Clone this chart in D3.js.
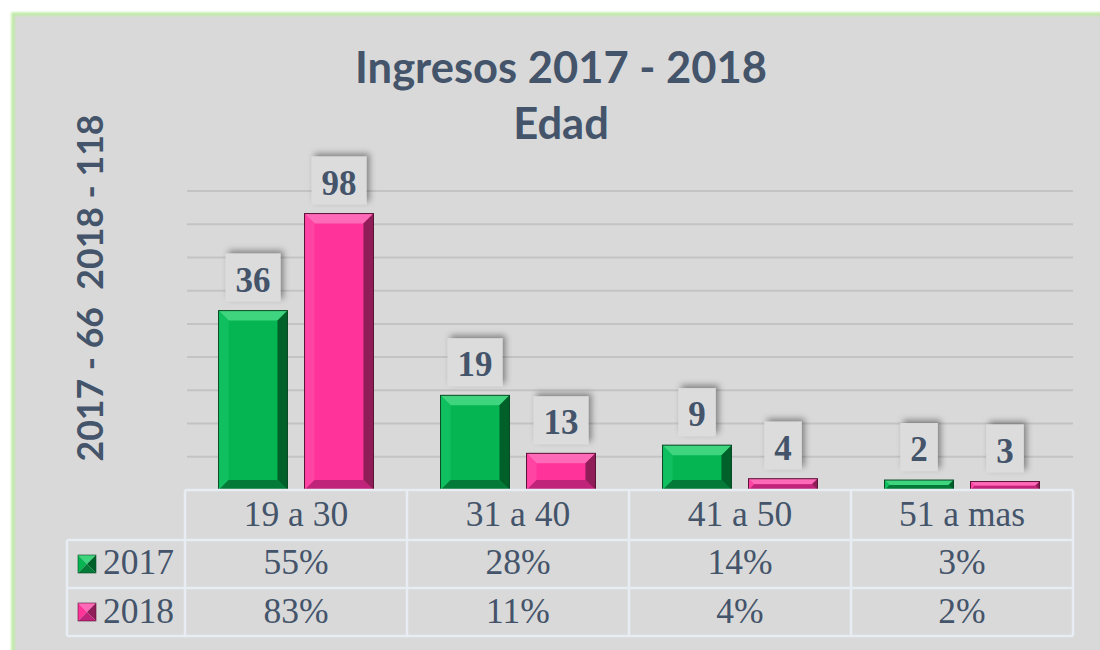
<!DOCTYPE html>
<html>
<head>
<meta charset="utf-8">
<script src="https://cdn.jsdelivr.net/npm/d3@7"></script>
<style>
  html, body { margin: 0; padding: 0; background: #ffffff; }
  svg { display: block; }
</style>
</head>
<body>
<svg id="chart" width="1100" height="650"></svg>
<script>
// ---------- data ----------
const categories = ["19 a 30", "31 a 40", "41 a 50", "51 a mas"];
const seriesNames = ["2017", "2018"];
const values2017 = [36, 19, 9, 2];
const values2018 = [98, 13, 4, 3];
const pct2017 = ["55%", "28%", "14%", "3%"];
const pct2018 = ["83%", "11%", "4%", "2%"];
const titleLines = ["Ingresos 2017 - 2018", "Edad"];
const axisTitle = "2017 - 66  2018 - 118";
const max2017 = 60;   // secondary axis maximum (hidden)
const max2018 = 106;  // primary axis maximum (hidden)
const gridCount = 9;

// ---------- layout ----------
const svg = d3.select("#chart");
const W = 1100, H = 650;
const plot = { left: 185, right: 1073, top: 191, bottom: 490 };
const tableRows = { header: [490, 540], r1: [540, 588], r2: [588, 636] };
const legendLeft = 67;
const textColor = "#44546a";
const titleFont = "Lato, 'Open Sans', 'Noto Sans', sans-serif";
const serif = "'Liberation Serif', 'Times New Roman', serif";

const defs = svg.append("defs");
const glow = defs.append("filter").attr("id", "glow").attr("x", "-5%").attr("y", "-5%").attr("width", "110%").attr("height", "110%");
glow.append("feGaussianBlur").attr("stdDeviation", 1.2);

const shadow = defs.append("filter").attr("id", "shadow").attr("x", "-40%").attr("y", "-40%").attr("width", "180%").attr("height", "180%");
shadow.append("feDropShadow").attr("dx", 3).attr("dy", -3).attr("stdDeviation", 3)
  .attr("flood-color", "#000").attr("flood-opacity", 0.4);

// background
svg.append("rect").attr("width", W).attr("height", H).attr("fill", "#ffffff");
svg.append("rect").attr("x", 13).attr("y", 14).attr("width", W + 20).attr("height", H + 20)
  .attr("fill", "#d9d9d9");
svg.append("rect").attr("x", 13).attr("y", 14).attr("width", W + 20).attr("height", H + 20)
  .attr("fill", "none").attr("stroke", "#bfeaa6").attr("stroke-width", 3.5).attr("filter", "url(#glow)");

// ---------- scales ----------
const x = d3.scaleBand().domain(categories).range([plot.left, plot.right]).paddingInner(0).paddingOuter(0);
const xs = d3.scaleBand().domain(seriesNames).range([0, x.bandwidth()]).paddingInner(0.198).paddingOuter(0.39);
const y17 = d3.scaleLinear().domain([0, max2017]).range([plot.bottom, plot.top]);
const y18 = d3.scaleLinear().domain([0, max2018]).range([plot.bottom, plot.top]);
const yGrid = d3.scaleLinear().domain([0, gridCount]).range([plot.bottom, plot.top]);

// gridlines
svg.append("g").selectAll("line").data(d3.range(1, gridCount + 1)).join("line")
  .attr("x1", plot.left + 2).attr("x2", plot.right)
  .attr("y1", d => yGrid(d)).attr("y2", d => yGrid(d))
  .attr("stroke", "#c3c3c3").attr("stroke-width", 2);

// ---------- titles ----------
function fitText(sel, width) {
  const w = sel.node().getComputedTextLength();
  const fs = parseFloat(sel.attr("font-size"));
  sel.attr("font-size", fs * width / w);
}
const t1 = svg.append("text").attr("x", 561).attr("y", 83).attr("text-anchor", "middle")
  .attr("font-family", titleFont).attr("font-weight", "bold")
  .attr("font-size", 38).attr("fill", textColor).text(titleLines[0]);
fitText(t1, 412);
svg.append("text").attr("x", 561).attr("y", 139).attr("text-anchor", "middle")
  .attr("font-family", titleFont).attr("font-weight", "bold")
  .attr("font-size", +t1.attr("font-size")).attr("fill", textColor).text(titleLines[1]);

const yt = svg.append("text").attr("transform", "translate(103,288) rotate(-90)").attr("text-anchor", "middle")
  .attr("font-family", titleFont).attr("font-weight", "bold")
  .attr("font-size", 38).attr("fill", textColor).attr("xml:space", "preserve").text(axisTitle);
fitText(yt, 347);

// ---------- bevelled bars ----------
const palettes = {
  "2017": { main: "#05b551", top: "#3fd57e", left: "#10c060", right: "#00602a", bottom: "#037a37", edge: "#0b4a26" },
  "2018": { main: "#ff3399", top: "#ff6ab8", left: "#ff44a4", right: "#8f1d58", bottom: "#c0237a", edge: "#5a1236" }
};
function bevelBar(g, x0, yTop, w, h, pal) {
  const b = Math.min(10, h / 2, w / 2);
  const x1 = x0 + w, yB = yTop + h;
  g.append("rect").attr("x", x0).attr("y", yTop).attr("width", w).attr("height", h).attr("fill", pal.main);
  const poly = (pts, fill) => g.append("polygon").attr("points", pts.map(p => p.join(",")).join(" ")).attr("fill", fill);
  poly([[x0, yTop], [x1, yTop], [x1 - b, yTop + b], [x0 + b, yTop + b]], pal.top);
  poly([[x0, yTop], [x0 + b, yTop + b], [x0 + b, yB - b], [x0, yB]], pal.left);
  poly([[x1, yTop], [x1, yB], [x1 - b, yB - b], [x1 - b, yTop + b]], pal.right);
  poly([[x0, yB], [x1, yB], [x1 - b, yB - b], [x0 + b, yB - b]], pal.bottom);
  g.append("rect").attr("x", x0).attr("y", yTop).attr("width", w).attr("height", h)
    .attr("fill", "none").attr("stroke", pal.edge).attr("stroke-width", 1);
}

const barData = [];
categories.forEach((c, i) => {
  barData.push({ cat: c, s: "2017", v: values2017[i], y: y17 });
  barData.push({ cat: c, s: "2018", v: values2018[i], y: y18 });
});

const barsG = svg.append("g");
barData.forEach(d => {
  const bx = x(d.cat) + xs(d.s);
  const yTop = d.y(d.v);
  bevelBar(barsG.append("g"), bx, yTop, xs.bandwidth(), plot.bottom - yTop, palettes[d.s]);
});

// data labels
const labelsG = svg.append("g");
barData.forEach(d => {
  const cx = x(d.cat) + xs(d.s) + xs.bandwidth() / 2;
  const yTop = d.y(d.v);
  const g = labelsG.append("g");
  const txt = g.append("text").attr("x", cx).attr("y", yTop - 19)
    .attr("text-anchor", "middle").attr("font-family", serif)
    .attr("font-weight", "bold").attr("font-size", 35).attr("fill", textColor).text(d.v);
  const tw = txt.node().getComputedTextLength();
  const bw = tw + 20, bh = 48;
  g.insert("rect", "text").attr("x", cx - bw / 2).attr("y", yTop - 9 - bh).attr("width", bw).attr("height", bh)
    .attr("fill", "#dcdcdc").attr("filter", "url(#shadow)");
});

// ---------- data table ----------
const tableG = svg.append("g");
const lineColor = "#e8ecf3";
const hl = (x1, x2, yy) => tableG.append("line").attr("x1", x1).attr("x2", x2).attr("y1", yy).attr("y2", yy)
  .attr("stroke", lineColor).attr("stroke-width", 2.5);
const vl = (xx, y1, y2) => tableG.append("line").attr("x1", xx).attr("x2", xx).attr("y1", y1).attr("y2", y2)
  .attr("stroke", lineColor).attr("stroke-width", 2.5);
hl(plot.left, plot.right, tableRows.header[0]);
hl(legendLeft, plot.right, tableRows.r1[0]);
hl(legendLeft, plot.right, tableRows.r2[0]);
hl(legendLeft, plot.right, tableRows.r2[1]);
vl(legendLeft, tableRows.r1[0], tableRows.r2[1]);
categories.forEach(c => vl(x(c), tableRows.header[0], tableRows.r2[1]));
vl(plot.right, tableRows.header[0], tableRows.r2[1]);

const tableFs = 35.5;
tableG.selectAll("text.cat").data(categories).join("text").attr("class", "cat")
  .attr("x", d => x(d) + x.bandwidth() / 2).attr("y", 526).attr("text-anchor", "middle")
  .attr("font-family", serif).attr("font-size", tableFs).attr("fill", textColor).text(d => d);
tableG.selectAll("text.p17").data(pct2017).join("text").attr("class", "p17")
  .attr("x", (d, i) => x(categories[i]) + x.bandwidth() / 2).attr("y", 574).attr("text-anchor", "middle")
  .attr("font-family", serif).attr("font-size", tableFs).attr("fill", textColor).text(d => d);
tableG.selectAll("text.p18").data(pct2018).join("text").attr("class", "p18")
  .attr("x", (d, i) => x(categories[i]) + x.bandwidth() / 2).attr("y", 623).attr("text-anchor", "middle")
  .attr("font-family", serif).attr("font-size", tableFs).attr("fill", textColor).text(d => d);

// legend keys
function legendKey(g, x0, y0, s, pal) {
  const poly = (pts, fill) => g.append("polygon").attr("points", pts.map(p => p.join(",")).join(" ")).attr("fill", fill);
  const c = [x0 + s / 2, y0 + s / 2];
  poly([[x0, y0], [x0 + s, y0], c], pal.top);
  poly([[x0, y0], c, [x0, y0 + s]], pal.main);
  poly([[x0 + s, y0], [x0 + s, y0 + s], c], pal.right);
  poly([[x0, y0 + s], [x0 + s, y0 + s], c], pal.bottom);
  g.append("rect").attr("x", x0).attr("y", y0).attr("width", s).attr("height", s)
    .attr("fill", "none").attr("stroke", pal.edge).attr("stroke-width", 0.6);
}
const rowMid = [(tableRows.r1[0] + tableRows.r1[1]) / 2, (tableRows.r2[0] + tableRows.r2[1]) / 2];
seriesNames.forEach((s, i) => {
  legendKey(tableG.append("g"), 78, rowMid[i] - 9, 18, palettes[s]);
  tableG.append("text").attr("x", 103).attr("y", [574, 623][i])
    .attr("font-family", serif).attr("font-size", tableFs).attr("fill", textColor).text(s);
});
</script>
</body>
</html>
